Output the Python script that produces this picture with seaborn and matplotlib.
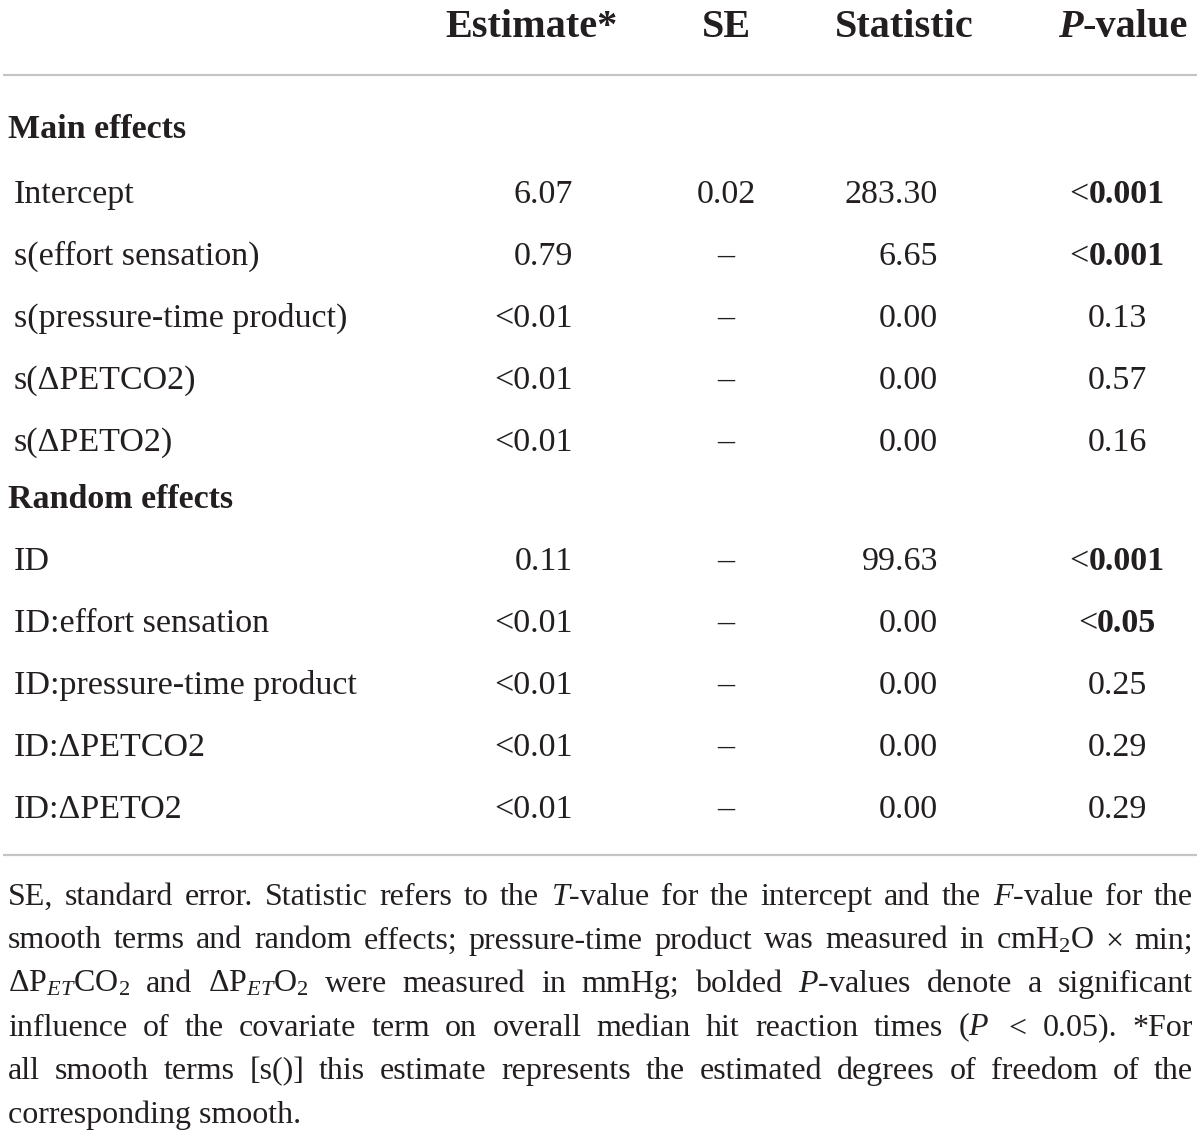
import matplotlib
matplotlib.use("Agg")
import matplotlib.pyplot as plt
import seaborn as sns

# table contents
columns = ["Estimate*", "SE", "Statistic", "P-value"]
groups = ["Main effects", "Random effects"]

main_terms = ["Intercept", "s(effort sensation)", "s(pressure-time product)",
              "s(\u0394PETCO2)", "s(\u0394PETO2)"]
main_est = ["6.07", "0.79", "<0.01", "<0.01", "<0.01"]
main_se = ["0.02", "\u2013", "\u2013", "\u2013", "\u2013"]
main_stat = ["283.30", "6.65", "0.00", "0.00", "0.00"]
main_p = ["<0.001", "<0.001", "0.13", "0.57", "0.16"]
main_sig = [True, True, False, False, False]

random_terms = ["ID", "ID:effort sensation", "ID:pressure-time product",
                "ID:\u0394PETCO2", "ID:\u0394PETO2"]
random_est = ["0.11", "<0.01", "<0.01", "<0.01", "<0.01"]
random_se = ["\u2013", "\u2013", "\u2013", "\u2013", "\u2013"]
random_stat = ["99.63", "0.00", "0.00", "0.00", "0.00"]
random_p = ["<0.001", "<0.05", "0.25", "0.29", "0.29"]
random_sig = [True, True, False, False, False]

footnote_lines = [
    r"SE, standard error. Statistic refers to the $T$-value for the intercept and the $F$-value for the",
    r"smooth terms and random effects; pressure-time product was measured in cmH$_2$O $\times$ min;",
    r"$\Delta$P$_{ET}$CO$_2$ and $\Delta$P$_{ET}$O$_2$ were measured in mmHg; bolded $P$-values denote a significant",
    r"influence of the covariate term on overall median hit reaction times ($P$ $<$ 0.05). *For",
    r"all smooth terms [s()] this estimate represents the estimated degrees of freedom of the",
    r"corresponding smooth.",
]

sns.set_theme(style="white")
plt.rcParams["font.family"] = ["Liberation Serif", "DejaVu Serif"]
plt.rcParams["mathtext.fontset"] = "custom"
plt.rcParams["mathtext.rm"] = "Liberation Serif"
plt.rcParams["mathtext.it"] = "Liberation Serif:italic"
plt.rcParams["mathtext.bf"] = "Liberation Serif:bold"

INK = "#231f20"
RULE = "#c4c4c4"
BODY = 24.5
HEAD = 29
FOOT = 23

fig = plt.figure(figsize=(12, 11.4), dpi=100)
ax = fig.add_axes([0, 0, 1, 1])
ax.set_xlim(0, 1200)
ax.set_ylim(1140, 0)
ax.axis("off")
renderer = fig.canvas.get_renderer()


def width_of(s, **kw):
    t = ax.text(0, 0, s, **kw)
    bb = t.get_window_extent(renderer=renderer)
    t.remove()
    return bb.width


# header
head_x = [532, 726, 904]
for x, name in zip(head_x, columns[:3]):
    ax.text(x, 37, name, ha="center", va="baseline", fontsize=HEAD,
            fontweight="bold", color=INK)
wp = width_of("P", fontsize=HEAD, fontweight="bold", fontstyle="italic")
wv = width_of("-value", fontsize=HEAD, fontweight="bold")
x0 = 1123 - (wp + wv) / 2
ax.text(x0, 37, "P", ha="left", va="baseline", fontsize=HEAD,
        fontweight="bold", fontstyle="italic", color=INK)
ax.text(x0 + wp, 37, "-value", ha="left", va="baseline", fontsize=HEAD,
        fontweight="bold", color=INK)

ax.plot([3, 1197], [75, 75], color=RULE, lw=1.6, solid_capstyle="butt")
ax.plot([3, 1197], [855, 855], color=RULE, lw=1.6, solid_capstyle="butt")


def draw_p(x, y, s, bold):
    if not bold:
        ax.text(x, y, s, ha="center", va="baseline", fontsize=BODY, color=INK)
        return
    lead = "<" if s.startswith("<") else ""
    num = s[len(lead):]
    wl = width_of(lead, fontsize=BODY) if lead else 0
    wn = width_of(num, fontsize=BODY, fontweight="bold")
    left = x - (wl + wn) / 2
    if lead:
        ax.text(left, y, lead, ha="left", va="baseline", fontsize=BODY, color=INK)
    ax.text(left + wl, y, num, ha="left", va="baseline", fontsize=BODY,
            fontweight="bold", color=INK)


blocks = [
    (groups[0], 138, 203, main_terms, main_est, main_se, main_stat, main_p, main_sig),
    (groups[1], 508, 570, random_terms, random_est, random_se, random_stat, random_p, random_sig),
]
step = 62
for title, ty, y0, terms, est, se, stat, pv, sig in blocks:
    ax.text(8, ty, title, ha="left", va="baseline", fontsize=BODY,
            fontweight="bold", color=INK)
    for i, term in enumerate(terms):
        y = y0 + i * step
        ax.text(14, y, term, ha="left", va="baseline", fontsize=BODY, color=INK)
        ax.text(573, y, est[i], ha="right", va="baseline", fontsize=BODY, color=INK)
        ax.text(726, y, se[i], ha="center", va="baseline", fontsize=BODY, color=INK)
        ax.text(938, y, stat[i], ha="right", va="baseline", fontsize=BODY, color=INK)
        draw_p(1117, y, pv[i], sig[i])

# justified footnote
left_x, right_x = 8, 1193
for k, line in enumerate(footnote_lines):
    y = 905 + k * 43.5
    words = line.split(" ")
    if k == len(footnote_lines) - 1:
        ax.text(left_x, y, line, ha="left", va="baseline", fontsize=FOOT, color=INK)
        continue
    widths = [width_of(w, fontsize=FOOT) for w in words]
    gap = (right_x - left_x - sum(widths)) / (len(words) - 1)
    x = left_x
    for w, wd in zip(words, widths):
        ax.text(x, y, w, ha="left", va="baseline", fontsize=FOOT, color=INK)
        x += wd + gap

fig.savefig("out.png", dpi=100, facecolor="white")
